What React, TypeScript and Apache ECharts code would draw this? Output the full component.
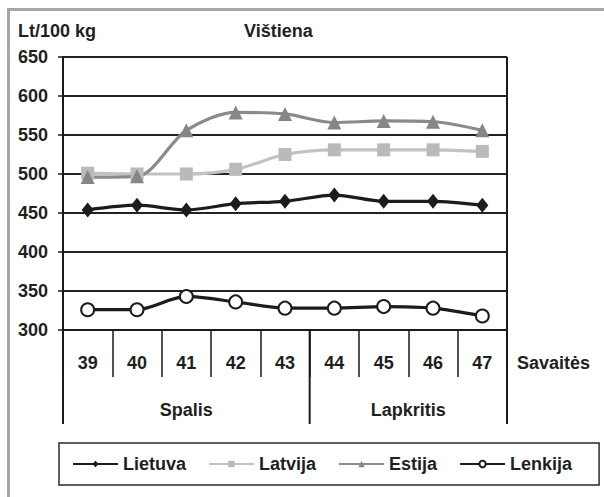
import React, { useEffect, useRef } from "react";
import * as echarts from "echarts";

const weeks = ["39", "40", "41", "42", "43", "44", "45", "46", "47"];
const monthNames = ["Spalis", "Lapkritis"];
const monthStarts = [0, 5, 9]; // category boundaries of the month groups
const seriesNames = ["Lietuva", "Latvija", "Estija", "Lenkija"];
const lietuva = [454, 460, 454, 462, 465, 473, 465, 465, 460];
const latvija = [501, 500, 500, 506, 525, 531, 531, 531, 529];
const estija = [496, 497, 556, 579, 577, 566, 568, 567, 556];
const lenkija = [326, 326, 343, 336, 328, 328, 330, 328, 318];
const yMin = 300;
const yMax = 650;
const yStep = 50;

const FONT = "'Liberation Sans', Arial, Helvetica, sans-serif";
const TXT = "#1f1f1f";

export default function App() {
  const ref = useRef<HTMLDivElement>(null);
  useEffect(() => {
    if (!ref.current) return;
    const chart = echarts.init(ref.current, undefined, { renderer: "svg" });
    const lineW = 3.2;
    const option: any = {
      animation: false,
      backgroundColor: "#ffffff",
      textStyle: { fontFamily: FONT },
      grid: { left: 63, top: 57, width: 444, height: 273, containLabel: false },
      legend: {
        left: 59,
        top: 443,
        orient: "horizontal",
        padding: [12, 27, 12, 13],
        itemWidth: 45,
        itemHeight: 8,
        itemGap: 22,
        borderColor: "#2a2a2a",
        borderWidth: 1.5,
        borderRadius: 0,
        textStyle: { fontFamily: FONT, fontWeight: "bold", fontSize: 18, color: TXT },
        data: seriesNames,
      },
      xAxis: {
        type: "category",
        data: weeks,
        boundaryGap: true,
        axisLine: { show: true, lineStyle: { color: "#1a1a1a", width: 2 } },
        axisTick: { show: true, interval: 0, length: 47, lineStyle: { color: "#1a1a1a", width: 1.5 } },
        axisLabel: {
          interval: 0,
          margin: 24,
          fontFamily: FONT,
          fontWeight: "bold",
          fontSize: 18,
          color: TXT,
        },
        splitLine: { show: false },
      },
      yAxis: {
        type: "value",
        min: yMin,
        max: yMax,
        interval: yStep,
        axisLine: { show: true, lineStyle: { color: "#1a1a1a", width: 2 } },
        axisTick: { show: true, length: 5, lineStyle: { color: "#1a1a1a", width: 1.5 } },
        axisLabel: { margin: 15, fontFamily: FONT, fontWeight: "bold", fontSize: 18, color: TXT },
        splitLine: { show: true, lineStyle: { color: "#222222", width: 1.8 } },
      },
      series: [
        {
          name: seriesNames[0],
          type: "line",
          data: lietuva,
          smooth: 0.3,
          symbol: "diamond",
          symbolSize: [12, 15],
          lineStyle: { color: "#1c1c1c", width: lineW },
          itemStyle: { color: "#1c1c1c" },
        },
        {
          name: seriesNames[1],
          type: "line",
          data: latvija,
          smooth: 0.3,
          symbol: "rect",
          symbolSize: 13,
          lineStyle: { color: "#c2c2c2", width: lineW },
          itemStyle: { color: "#bababa" },
        },
        {
          name: seriesNames[2],
          type: "line",
          data: estija,
          smooth: 0.3,
          symbol: "triangle",
          symbolSize: 14,
          lineStyle: { color: "#8a8a8a", width: lineW },
          itemStyle: { color: "#868686" },
        },
        {
          name: seriesNames[3],
          type: "line",
          data: lenkija,
          smooth: 0.3,
          symbol: "circle",
          symbolSize: 13,
          lineStyle: { color: "#1c1c1c", width: lineW },
          itemStyle: { color: "#ffffff", borderColor: "#1c1c1c", borderWidth: 2 },
        },
      ],
    };
    chart.setOption(option);

    // Decorations derived from the axis scales
    const c0 = chart.convertToPixel({ xAxisIndex: 0 }, 0) as number;
    const c1 = chart.convertToPixel({ xAxisIndex: 0 }, 1) as number;
    const band = c1 - c0;
    const boundary = (i: number) => c0 - band / 2 + i * band;
    const yTop = chart.convertToPixel({ yAxisIndex: 0 }, yMax) as number;
    const yBot = chart.convertToPixel({ yAxisIndex: 0 }, yMin) as number;
    const lineBottom = 424;
    const graphics: any[] = [
      {
        type: "rect",
        shape: { x: 8.5, y: 9.5, width: 700, height: 600 },
        style: { fill: "none", stroke: "#a7a7a7", lineWidth: 3 },
        z: 1,
        silent: true,
      },
      {
        type: "text",
        left: 18,
        top: 22,
        style: { text: "Lt/100 kg", font: `bold 18px ${FONT}`, fill: TXT },
      },
      {
        type: "text",
        left: 244,
        top: 22,
        style: { text: "Vištiena", font: `bold 18px ${FONT}`, fill: TXT },
      },
      {
        type: "text",
        x: boundary(weeks.length) + 10,
        y: yBot + 33,
        style: { text: "Savaitės", font: `bold 18px ${FONT}`, fill: TXT, verticalAlign: "middle", align: "left" },
      },
      {
        type: "line",
        shape: { x1: boundary(weeks.length), y1: yTop, x2: boundary(weeks.length), y2: lineBottom },
        style: { stroke: "#1a1a1a", lineWidth: 2 },
      },
    ];
    monthStarts.forEach((s) => {
      graphics.push({
        type: "line",
        shape: { x1: boundary(s), y1: yBot, x2: boundary(s), y2: lineBottom },
        style: { stroke: "#1a1a1a", lineWidth: 2 },
      });
    });
    monthNames.forEach((m, i) => {
      const cx = (boundary(monthStarts[i]) + boundary(monthStarts[i + 1])) / 2;
      graphics.push({
        type: "text",
        x: cx,
        y: 410,
        style: { text: m, font: `bold 18px ${FONT}`, fill: TXT, align: "center", verticalAlign: "middle" },
      });
    });
    chart.setOption({ graphic: graphics });

    return () => chart.dispose();
  }, []);
  return (
    <div
      ref={ref}
      style={{ position: "fixed", left: 0, top: 0, width: 604, height: 497, background: "#fff" }}
    />
  );
}
